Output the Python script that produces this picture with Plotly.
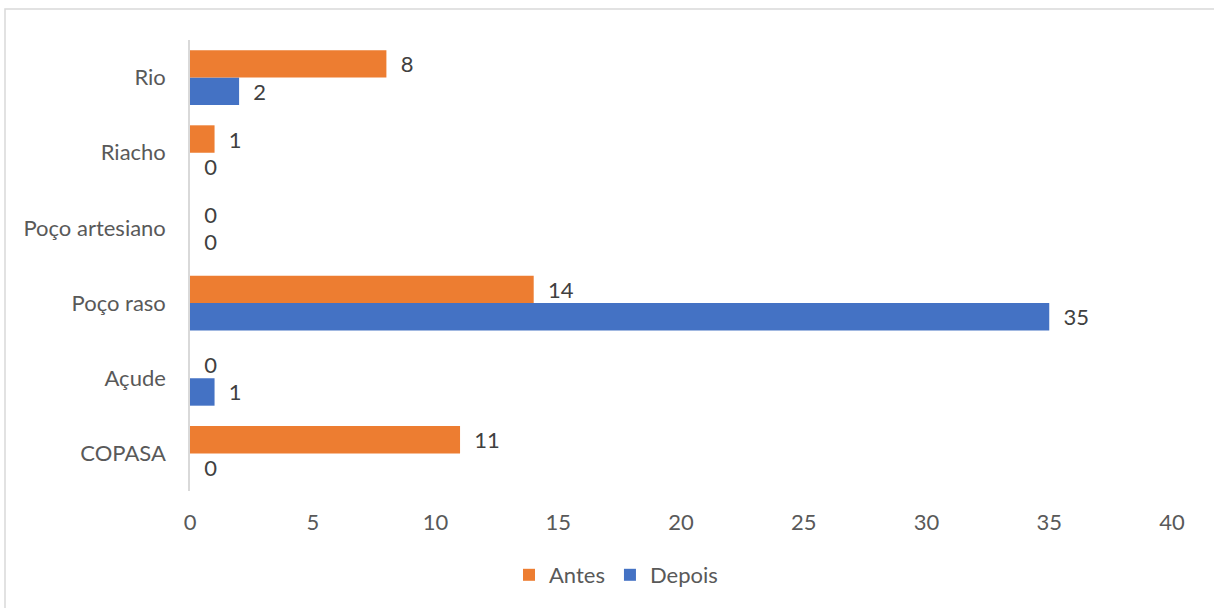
import plotly.graph_objects as go

categories = ["COPASA", "Açude", "Poço raso", "Poço artesiano", "Riacho", "Rio"]
antes = [11, 0, 14, 0, 1, 8]
depois = [0, 1, 35, 0, 0, 2]
x_ticks = [0, 5, 10, 15, 20, 25, 30, 35, 40]

ORANGE = "#ED7D31"
BLUE = "#4472C4"
FONT = "Lato, 'Open Sans', sans-serif"
FS = 22
PAD = "\u00a0\u00a0"

fig = go.Figure()
fig.add_trace(go.Bar(
    y=categories, x=depois, name="Depois", orientation="h",
    marker=dict(color=BLUE, line=dict(width=0)),
    text=[PAD + str(v) for v in depois], textposition="outside",
    textfont=dict(color="#404040", size=FS, family=FONT),
    cliponaxis=False, legendrank=2, hoverinfo="skip",
))
fig.add_trace(go.Bar(
    y=categories, x=antes, name="Antes", orientation="h",
    marker=dict(color=ORANGE, line=dict(width=0)),
    text=[PAD + str(v) for v in antes], textposition="outside",
    textfont=dict(color="#404040", size=FS, family=FONT),
    cliponaxis=False, legendrank=1, hoverinfo="skip",
))

W, H = 1214, 608
L, R, T, B = 190, 42, 40, 117
pw, ph = W - L - R, H - T - B

def px_x(x):
    return (x - L) / pw

def px_y(y):
    return (T + ph - y) / ph

fig.update_layout(
    width=W, height=H,
    margin=dict(l=L, r=R, t=T, b=B, pad=0),
    paper_bgcolor="white", plot_bgcolor="white",
    barmode="group", bargap=0.27, bargroupgap=0,
    font=dict(family=FONT, size=FS, color="#595959"),
    showlegend=True,
    legend=dict(orientation="h", x=px_x(616), xanchor="center",
                y=px_y(575), yanchor="middle",
                font=dict(size=FS, color="#595959"), traceorder="normal",
                itemwidth=30),
    xaxis=dict(range=[0, 40], tickvals=x_ticks, ticktext=[str(v) for v in x_ticks],
               showgrid=False, zeroline=False, showline=False, ticks="",
               ticklabelstandoff=16, fixedrange=True),
    yaxis=dict(showgrid=False, zeroline=False, showline=True, linecolor="#D9D9D9",
               linewidth=1.5, ticks="", ticklabelstandoff=18, fixedrange=True,
               categoryorder="array", categoryarray=categories),
    shapes=[dict(type="rect", xref="paper", yref="paper",
                 x0=px_x(5), x1=px_x(1240),
                 y0=px_y(640), y1=px_y(9),
                 line=dict(color="#D9D9D9", width=1.5), fillcolor="rgba(0,0,0,0)",
                 layer="below")],
)

fig.write_html(
    "out.html",
    config={"displayModeBar": False},
    post_script="document.body.style.margin='0';document.body.style.overflow='hidden';",
)
